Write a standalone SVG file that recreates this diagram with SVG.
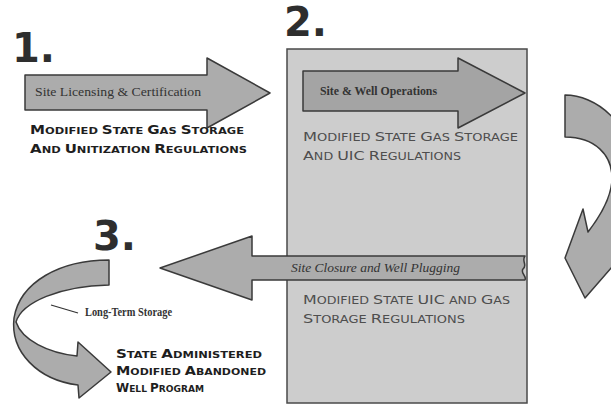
<svg xmlns="http://www.w3.org/2000/svg" width="611" height="405" viewBox="0 0 611 405">
<style>
.num{font-family:"DejaVu Sans","Liberation Sans",sans-serif;font-weight:bold;font-size:40px;fill:#2e2e2e}
.arr{fill:#acacac;stroke:#3a3a3a;stroke-width:1.5;stroke-linejoin:round}
.box{fill:#cdcdcd;stroke:#4a4a4a;stroke-width:1.5}
.sc{font-family:"DejaVu Sans","Liberation Sans",sans-serif;font-weight:bold;font-size:9.5px;fill:#1e1e1e}
.sl{font-family:"DejaVu Sans","Liberation Sans",sans-serif;font-size:10px;fill:#4e4e4e}
.c{font-size:12.5px}
.lab{font-family:"Liberation Serif","DejaVu Serif",serif;font-size:12px;fill:#333}
</style>
<g id="step2-box">
<rect class="box" x="287" y="49" width="240" height="354"/>
</g>
<g id="step1">
<text class="num" x="12" y="62">1.</text>
<path class="arr" d="M25,75 L207,75 L207,58 L270,93 L207,128 L207,110 L25,110 Z"/>
<text class="lab" x="35" y="96" textLength="166" lengthAdjust="spacingAndGlyphs">Site Licensing &amp; Certification</text>
<text class="sc" x="30" y="134" textLength="214" lengthAdjust="spacingAndGlyphs"><tspan class="c">M</tspan>ODIFIED <tspan class="c">S</tspan>TATE <tspan class="c">G</tspan>AS <tspan class="c">S</tspan>TORAGE</text>
<text class="sc" x="30" y="153" textLength="217" lengthAdjust="spacingAndGlyphs"><tspan class="c">A</tspan>ND <tspan class="c">U</tspan>NITIZATION <tspan class="c">R</tspan>EGULATIONS</text>
</g>
<g id="step2">
<text class="num" x="284" y="36">2.</text>
<path class="arr" d="M303,71 L458,71 L458,58 L525,93 L458,128 L458,111 L303,111 Z" style="fill:#a4a4a4"/>
<text class="lab" x="320" y="95" font-weight="bold" textLength="117" lengthAdjust="spacingAndGlyphs">Site &amp; Well Operations</text>
<text class="sl" x="303" y="141" textLength="215" lengthAdjust="spacingAndGlyphs"><tspan class="c">M</tspan>ODIFIED <tspan class="c">S</tspan>TATE <tspan class="c">G</tspan>AS <tspan class="c">S</tspan>TORAGE</text>
<text class="sl" x="303" y="160" textLength="158" lengthAdjust="spacingAndGlyphs"><tspan class="c">A</tspan>ND <tspan class="c">UIC</tspan> <tspan class="c">R</tspan>EGULATIONS</text>
<text class="sl" x="303" y="304" textLength="207" lengthAdjust="spacingAndGlyphs"><tspan class="c">M</tspan>ODIFIED <tspan class="c">S</tspan>TATE <tspan class="c">UIC</tspan> AND <tspan class="c">G</tspan>AS</text>
<text class="sl" x="303" y="323" textLength="162" lengthAdjust="spacingAndGlyphs"><tspan class="c">S</tspan>TORAGE <tspan class="c">R</tspan>EGULATIONS</text>
</g>
<g id="connectors">
<path id="closure-arrow" class="arr" d="M525,256 C521,261 528,265 523,269 C520,273 527,276 525,280 L252,280 L252,300 L160,268 L252,236 L252,256 Z"/>
<text class="lab" x="291" y="272" font-style="italic" font-size="13" textLength="169" lengthAdjust="spacingAndGlyphs">Site Closure and Well Plugging</text>
<path id="cycle-arrow" class="arr" d="M565,95 C595,95 632,122 634,172 C635,215 625,250 612,267 L585,298 L565,258 L583,209 L588,232 C601,215 612,196 612,178 C612,155 595,137 565,137 Z"/>
</g>
<g id="step3">
<text class="num" x="93" y="250">3.</text>
<path id="storage-arrow" class="arr" d="M109,260 C60,260 20,282 14,318 C10,352 38,380 78,385 L79,398 L111,372 L78,342 L77,356 C48,353 22,340 16,322 C22,302 60,286 109,285 Z"/>
<line x1="51" y1="305" x2="78" y2="313" stroke="#333" stroke-width="1.3"/>
<text class="lab" x="85" y="316" font-weight="bold" font-size="10" textLength="87" lengthAdjust="spacingAndGlyphs">Long-Term Storage</text>
<text class="sc" x="116" y="358" textLength="146" lengthAdjust="spacingAndGlyphs"><tspan class="c">S</tspan>TATE <tspan class="c">A</tspan>DMINISTERED</text>
<text class="sc" x="116" y="375" textLength="150" lengthAdjust="spacingAndGlyphs"><tspan class="c">M</tspan>ODIFIED <tspan class="c">A</tspan>BANDONED</text>
<text class="sc" x="116" y="392" textLength="88" lengthAdjust="spacingAndGlyphs"><tspan class="c">W</tspan>ELL <tspan class="c">P</tspan>ROGRAM</text>
</g>
</svg>
